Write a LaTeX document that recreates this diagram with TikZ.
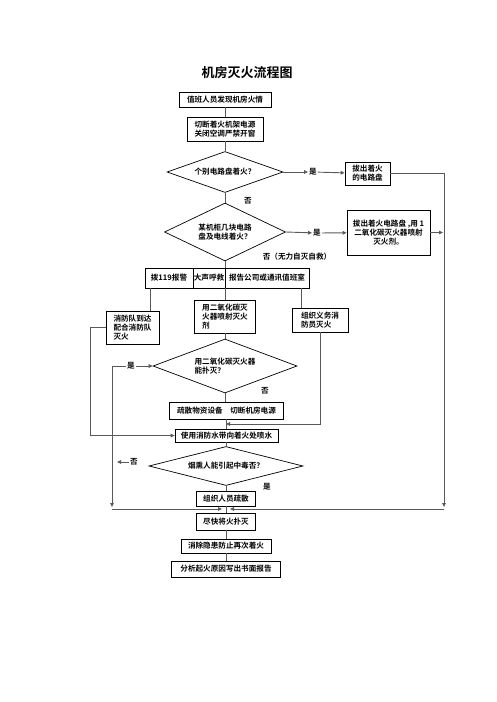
\documentclass[tikz,border=0pt]{standalone}
\usepackage{fontspec}
\setmainfont{Noto Sans CJK SC}[BoldFont=* Bold]
\usetikzlibrary{arrows.meta, shapes.geometric}
\tikzset{
  box/.style={draw, line width=0.8pt, inner sep=1pt, align=center, font=\fontsize{7.6}{9}\selectfont\bfseries},
  lbox/.style={box, align=left},
  check/.style={draw, diamond, line width=0.7pt, inner sep=0pt, align=left, font=\fontsize{7.6}{9}\selectfont\bfseries},
  tag/.style={inner sep=1pt, font=\fontsize{7.6}{9}\selectfont\bfseries},
  link/.style={draw=black!65, line width=0.9pt},
  flow/.style={link, -{Triangle[length=4pt, width=3.6pt]}},
}

\begin{document}
\begin{tikzpicture}[x=1pt, y=-1pt]
  \useasboundingbox (0,0) rectangle (496,702);
  \node[font=\fontsize{13}{15}\selectfont\bfseries] (title) at (247,73) {机房灭火流程图};
  \node[box, minimum width=92pt, minimum height=15pt] (find) at (225,99.5) {值班人员发现机房火情};
  \node[box, minimum width=76pt, minimum height=24pt] (cut) at (225,129) {切断着火机架电源\\关闭空调严禁开窗};
  \node[check, aspect=2.83, minimum width=116pt, minimum height=41pt] (ask1) at (225,172) {个别电路盘着火？};
  \node[tag] (yes1) at (313,172) {是};
  \node[box, minimum width=45pt, minimum height=23pt] (pull1) at (367.5,173.5) {拔出着火\\的电路盘};
  \node[tag] (no1) at (248,201) {否};
  \node[check, aspect=2.09, minimum width=121pt, minimum height=58pt] (ask2) at (225,232) {某机柜几块电路\\盘及电线着火？};
  \node[tag] (yes2) at (317,233) {是};
  \node[box, minimum width=83pt, minimum height=45pt] (pull2) at (388.5,232.5) {拔出着火电路盘 ,用 1\\二氧化碳灭火器喷射\\灭火剂。};
  \node[tag] (no2) at (297,257) {否（无力自灭自救）};
  \node[box, minimum width=48pt, minimum height=20pt, inner sep=0pt] (dial) at (169,278) {拨119报警};
  \node[box, minimum width=32pt, minimum height=20pt, inner sep=0pt] (shout) at (209,278) {大声呼救};
  \node[box, minimum width=84pt, minimum height=20pt, inner sep=0pt] (report) at (267,278) {报告公司或通讯值班室};
  \node[lbox, minimum width=53pt, minimum height=33pt] (team) at (132.5,327.5) {消防队到达\\配合消防队\\灭火};
  \node[lbox, minimum width=61pt, minimum height=33pt] (co2) at (225,316.5) {用二氧化碳灭\\火器喷射灭火\\剂};
  \node[lbox, minimum width=56pt, minimum height=24pt] (vol) at (320,320) {组织义务消\\防员灭火};
  \node[check, aspect=2.67, minimum width=144pt, minimum height=54pt] (ask3) at (225,366) {用二氧化碳灭火器\\能扑灭？};
  \node[tag] (yes3) at (131,366) {是};
  \node[tag] (no3) at (265,391) {否};
  \node[box, minimum width=114pt, minimum height=17pt] (evac) at (226.5,410.5) {疏散物资设备\quad 切断机房电源};
  \node[box, minimum width=103pt, minimum height=13pt] (hose) at (226.5,435.5) {使用消防水带向着火处喷水};
  \node[check, aspect=3.95, minimum width=154pt, minimum height=39pt] (ask4) at (226,466) {烟熏人能引起中毒否？};
  \node[tag] (no4) at (134,462) {否};
  \node[tag] (yes4) at (267,487) {是};
  \node[box, minimum width=59pt, minimum height=15pt] (org) at (226,498.5) {组织人员疏散};
  \node[box, minimum width=59pt, minimum height=17pt] (ext) at (226,521.5) {尽快将火扑灭};
  \node[box, minimum width=90pt, minimum height=14pt] (elim) at (226,546) {消除隐患防止再次着火};
  \node[box, minimum width=109pt, minimum height=16pt] (anal) at (226,569) {分析起火原因写出书面报告};

  % turning points
  \coordinate (ecorner) at (444,507);
  \coordinate (eside) at (443,232.5);
  \coordinate (ebase) at (444,509);
  \coordinate (emid) at (230,509);
  \coordinate (wcorner) at (112,507);
  \coordinate (wbase) at (112,509);
  \coordinate (wmid) at (222,509);
  \coordinate (teamtop) at (150,311);
  \coordinate (voltop) at (301,308);
  \coordinate (teamturn) at (90,327.5);
  \coordinate (vjoin) at (226,424);
  \coordinate (nogo) at (117,462);

  \foreach \a/\b in {find/cut, cut/ask1, ask1/ask2, co2/ask3, ask3/evac, evac/hose, hose/ask4, ask4/org, org/ext, ext/elim, elim/anal}
    \draw[link] (\a.south) -- (\a.south |- \b.north);
  \draw[link] (ask2.south) -- (ask2.south |- report.north);
  \draw[link] (teamtop |- dial.south) -- (teamtop);
  \draw[link] (co2.north |- report.south) -- (co2.north);
  \draw[link] (voltop |- report.south) -- (voltop);

  \draw[flow] (ask1.east) -- (yes1);
  \draw[flow] (yes1) -- (pull1);
  \draw[flow] (pull1.east) -| (ecorner);
  \draw[flow] (ask2.east) -- (yes2);
  \draw[flow] (yes2) -- (pull2);
  \draw[flow] (pull2.east) -- (eside);
  \draw[flow] (team.west) -- (teamturn) |- (hose.west);
  \draw[flow] (vol.south) |- (vjoin);
  \draw[flow] (yes3) -- (ask3.west);
  \draw[flow] (yes3.west) -| (wcorner);
  \draw[flow] (no4.west) -- (nogo);
  \draw[flow] (wbase) -- (wmid);
  \draw[flow] (ebase) -- (emid);
\end{tikzpicture}
\end{document}
